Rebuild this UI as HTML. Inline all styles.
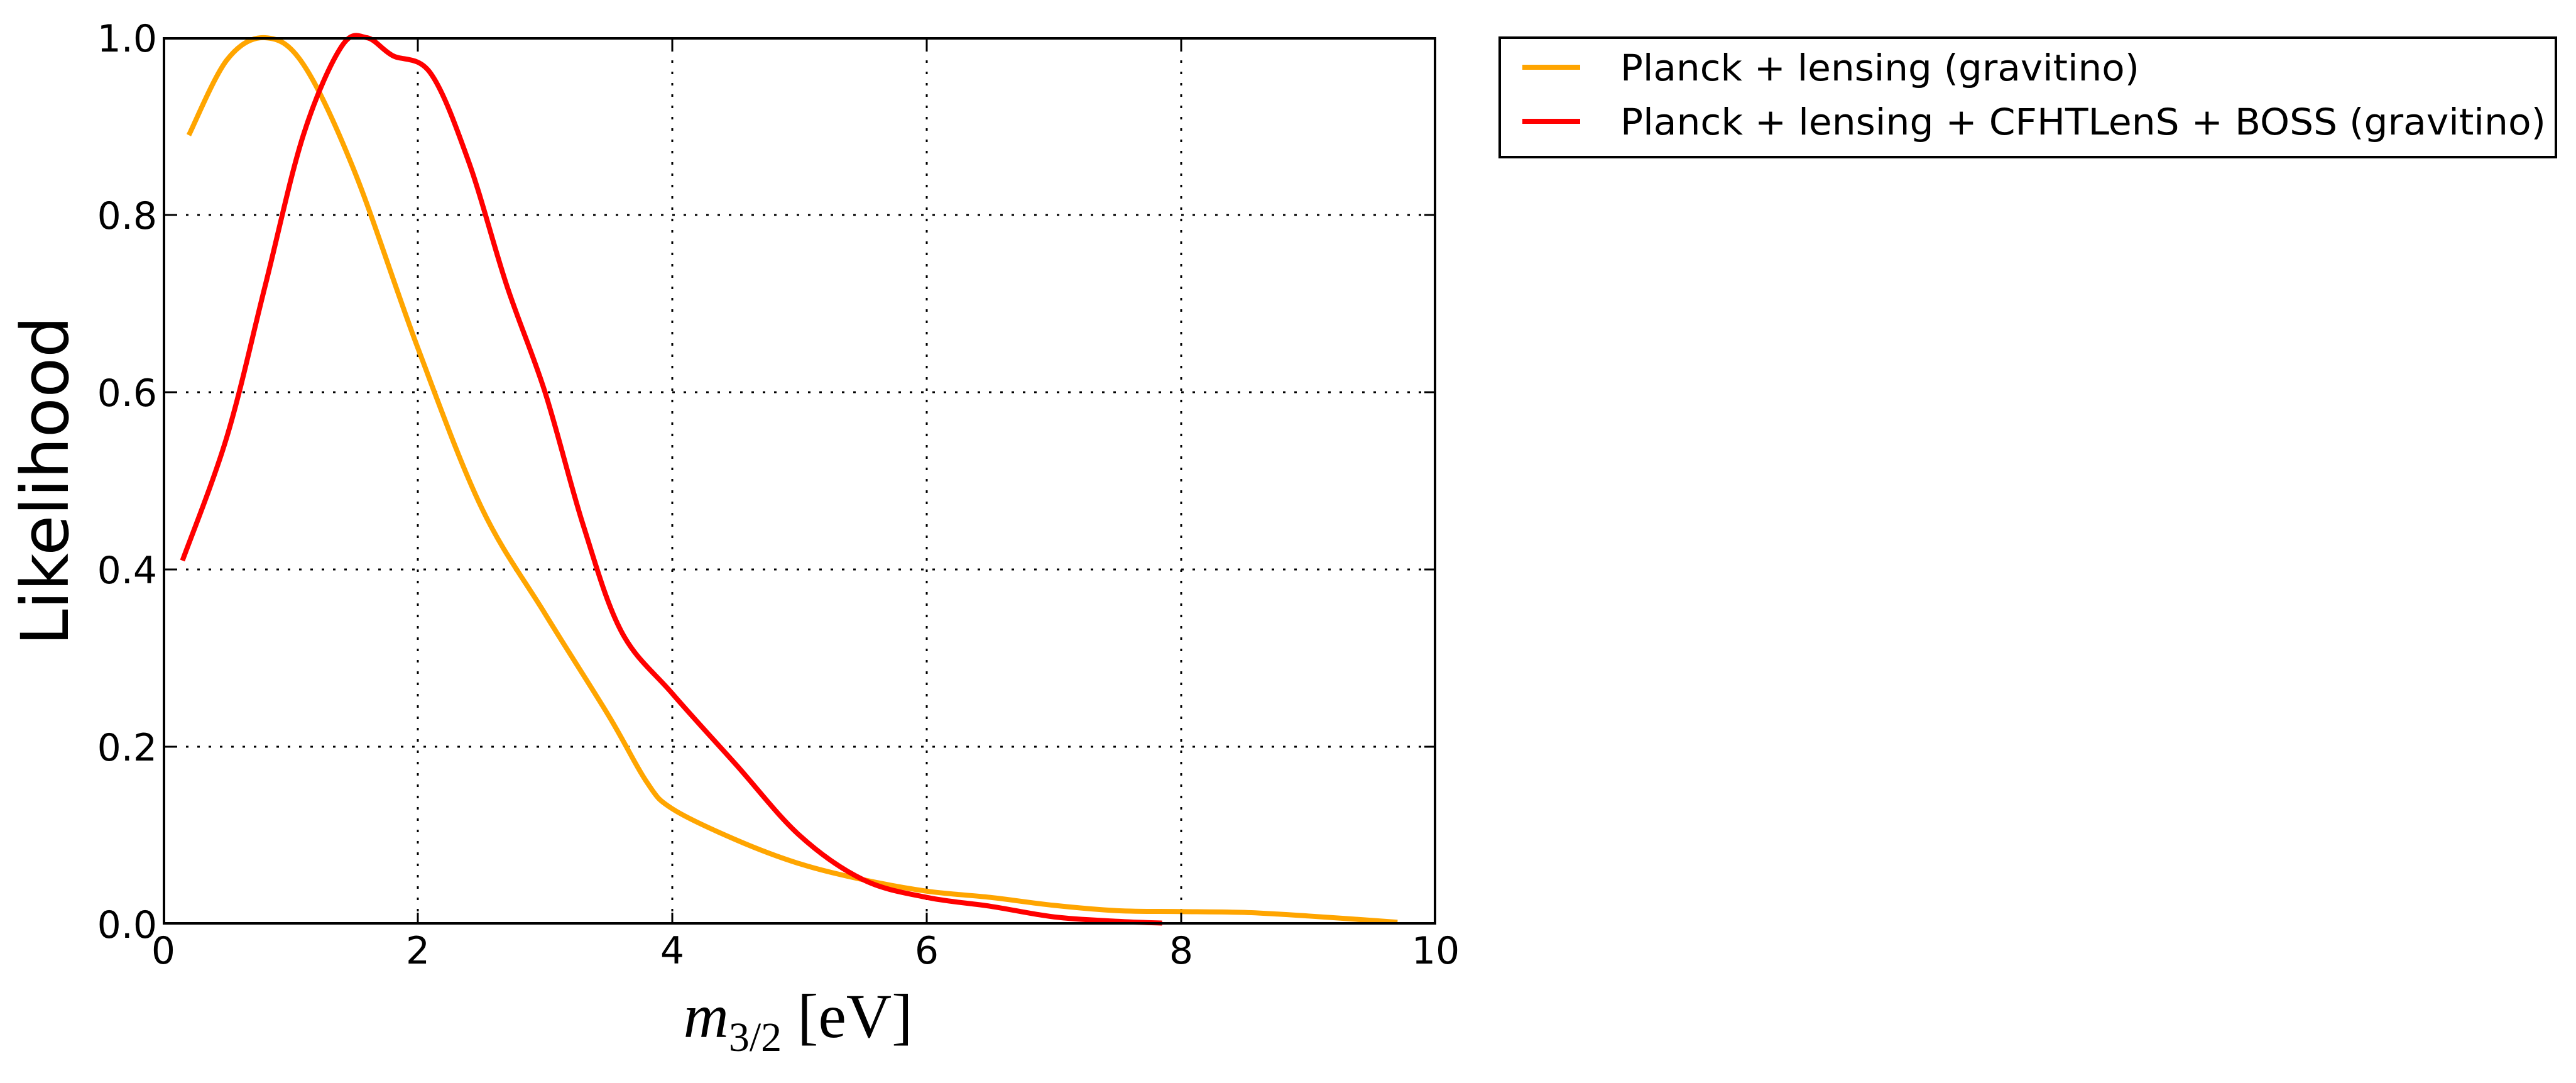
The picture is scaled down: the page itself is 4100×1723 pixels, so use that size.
<!DOCTYPE html>
<html><head><meta charset="utf-8"><style>
html,body{margin:0;padding:0;background:#fff;}
svg{display:block;}
</style></head><body>
<svg id="s" width="4100" height="1723" xmlns="http://www.w3.org/2000/svg">
<rect width="4100" height="1723" fill="#fff"/>
<g stroke="#000" stroke-width="3" stroke-dasharray="4,14">
<line x1="665" y1="60" x2="665" y2="1470"/>
<line x1="1070" y1="60" x2="1070" y2="1470"/>
<line x1="1475" y1="60" x2="1475" y2="1470"/>
<line x1="1880" y1="60" x2="1880" y2="1470"/>
<line x1="260" y1="342" x2="2285" y2="342"/>
<line x1="260" y1="624" x2="2285" y2="624"/>
<line x1="260" y1="906" x2="2285" y2="906"/>
<line x1="260" y1="1188" x2="2285" y2="1188"/>
</g>
<g id="curves" fill="none" stroke-width="8" stroke-linejoin="round"></g>
<g stroke="#000" stroke-width="3">
<line x1="665" y1="1470" x2="665" y2="1452"/><line x1="1070" y1="1470" x2="1070" y2="1452"/><line x1="1475" y1="1470" x2="1475" y2="1452"/><line x1="1880" y1="1470" x2="1880" y2="1452"/>
<line x1="665" y1="60" x2="665" y2="78"/><line x1="1070" y1="60" x2="1070" y2="78"/><line x1="1475" y1="60" x2="1475" y2="78"/><line x1="1880" y1="60" x2="1880" y2="78"/>
<line x1="260" y1="342" x2="278" y2="342"/><line x1="260" y1="624" x2="278" y2="624"/><line x1="260" y1="906" x2="278" y2="906"/><line x1="260" y1="1188" x2="278" y2="1188"/>
<line x1="2285" y1="342" x2="2267" y2="342"/><line x1="2285" y1="624" x2="2267" y2="624"/><line x1="2285" y1="906" x2="2267" y2="906"/><line x1="2285" y1="1188" x2="2267" y2="1188"/>
</g>
<rect x="261" y="61" width="2023" height="1408" fill="none" stroke="#000" stroke-width="4"/>
<g font-family="DejaVu Sans, Liberation Sans, sans-serif" font-size="60" fill="#000">
<g text-anchor="end">
<text x="250" y="82">1.0</text><text x="250" y="364">0.8</text><text x="250" y="646">0.6</text><text x="250" y="928">0.4</text><text x="250" y="1210">0.2</text><text x="250" y="1492">0.0</text>
</g>
<g text-anchor="middle">
<text x="260" y="1533">0</text><text x="665" y="1533">2</text><text x="1070" y="1533">4</text><text x="1475" y="1533">6</text><text x="1880" y="1533">8</text><text x="2285" y="1533">10</text>
</g>
<text transform="translate(108,765) rotate(-90)" text-anchor="middle" font-size="104">Likelihood</text>
</g>
<text x="1270" y="1650" text-anchor="middle" font-family="Liberation Serif, DejaVu Serif, serif" font-size="100"><tspan font-style="italic">m</tspan><tspan font-size="66" dy="22">3/2</tspan><tspan dy="-22"> [eV]</tspan></text>
<rect x="2387" y="60" width="1681" height="190" fill="#fff" stroke="#000" stroke-width="4"/>
<line x1="2423" y1="107" x2="2515" y2="107" stroke="#FFA500" stroke-width="8"/>
<line x1="2423" y1="193" x2="2515" y2="193" stroke="#FF0000" stroke-width="8"/>
<g font-family="DejaVu Sans, Liberation Sans, sans-serif" font-size="58" fill="#000">
<text x="2579" y="128" textLength="826" lengthAdjust="spacingAndGlyphs">Planck + lensing (gravitino)</text>
<text x="2579" y="214" textLength="1473" lengthAdjust="spacingAndGlyphs">Planck + lensing + CFHTLenS + BOSS (gravitino)</text>
</g>
</svg>
<script>
function P(x,y){return [260+202.5*x,1470-1410*y];}
function path(d){var p=d.map(function(a){return P(a[0],a[1]);});var s="M"+p[0][0]+","+p[0][1];
for(var i=0;i<p.length-1;i++){var p0=p[i-1]||p[i],p1=p[i],p2=p[i+1],p3=p[i+2]||p2;
var c1=[p1[0]+(p2[0]-p0[0])/6,p1[1]+(p2[1]-p0[1])/6],c2=[p2[0]-(p3[0]-p1[0])/6,p2[1]-(p3[1]-p1[1])/6];
s+=" C"+c1[0]+","+c1[1]+" "+c2[0]+","+c2[1]+" "+p2[0]+","+p2[1];}return s;}
var o=[[0.2,0.89],[0.5,0.975],[0.8,1.0],[1.1,0.97],[1.5,0.85],[2,0.65],[2.5,0.47],[3,0.35],[3.5,0.235],[3.8,0.16],[4,0.13],[4.5,0.095],[5,0.068],[5.5,0.05],[6,0.037],[6.5,0.03],[7,0.021],[7.5,0.015],[8,0.014],[8.5,0.013],[9,0.009],[9.7,0.002]];
var r=[[0.15,0.41],[0.5,0.55],[0.8,0.72],[1.1,0.89],[1.4,0.99],[1.6,1.0],[1.8,0.98],[2.1,0.96],[2.4,0.86],[2.7,0.72],[3,0.6],[3.3,0.45],[3.6,0.33],[4,0.26],[4.5,0.18],[5,0.10],[5.5,0.05],[6,0.03],[6.5,0.02],[7,0.008],[7.5,0.003],[7.85,0.001]];
var g=document.getElementById("curves");
[[o,"#FFA500"],[r,"#FF0000"]].forEach(function(c){var e=document.createElementNS("http://www.w3.org/2000/svg","path");e.setAttribute("d",path(c[0]));e.setAttribute("stroke",c[1]);g.appendChild(e);});
</script>
</body></html>
